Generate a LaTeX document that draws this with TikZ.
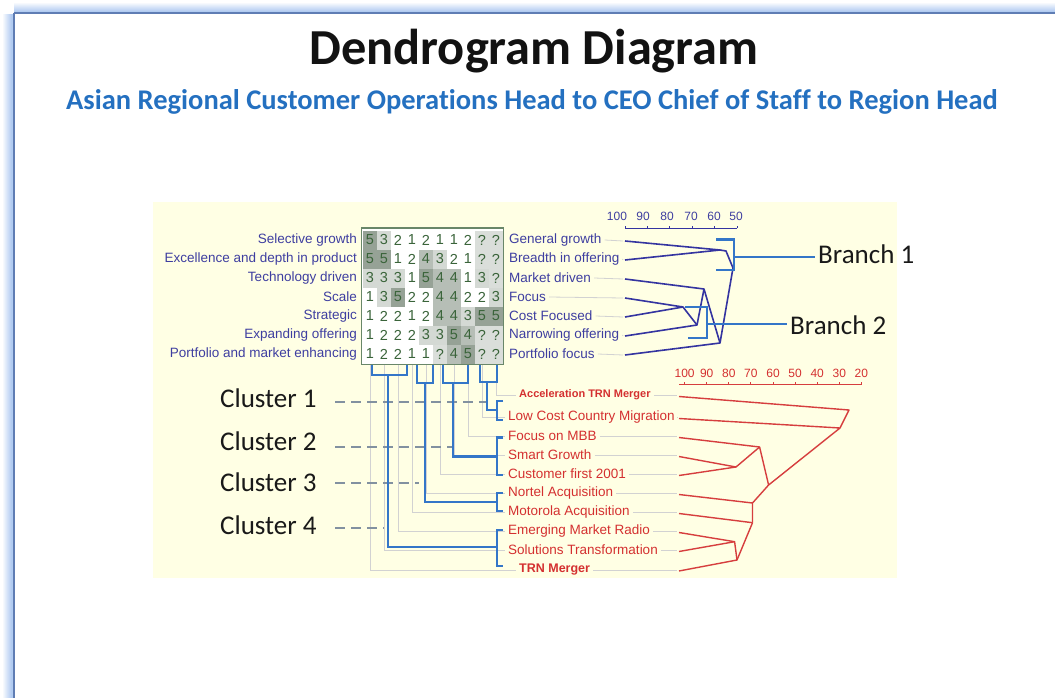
\documentclass[tikz,border=0pt]{standalone}
\usepackage{fontspec}
\setmainfont{Carlito}[Ligatures=NoCommon]
\newfontfamily\arialf{Liberation Sans}[Ligatures=NoCommon]
\definecolor{labblue}{RGB}{62,62,160}
\definecolor{dendro}{RGB}{52,52,160}
\definecolor{brblue}{RGB}{52,118,200}
\definecolor{redlab}{RGB}{212,48,48}
\definecolor{redline}{RGB}{214,62,62}
\definecolor{panel}{RGB}{255,255,228}
\definecolor{mgreen}{RGB}{58,100,58}
\definecolor{mborder}{RGB}{105,135,105}
\colorlet{cell1}{white}
\colorlet{cell2}{white}
\definecolor{cell3}{RGB}{212,217,212}
\definecolor{cell4}{RGB}{182,190,182}
\definecolor{cell5}{RGB}{150,162,150}
\definecolor{cellq}{RGB}{218,222,218}
\definecolor{subblue}{RGB}{36,112,192}
\definecolor{frdark}{RGB}{95,125,180}
\definecolor{frlight}{RGB}{170,198,240}
\definecolor{leadgray}{RGB}{210,210,210}
\definecolor{dashgray}{RGB}{130,145,160}
\expandafter\def\csname mt1\endcsname{1}
\expandafter\def\csname mt2\endcsname{2}
\expandafter\def\csname mt3\endcsname{3}
\expandafter\def\csname mt4\endcsname{4}
\expandafter\def\csname mt5\endcsname{5}
\expandafter\def\csname mtq\endcsname{?}
\begin{document}
\begin{tikzpicture}[x=1pt,y=-1pt,
  lab/.style={font=\arialf\fontsize{13.5}{14}\selectfont, text=labblue, inner sep=0pt},
  rlab/.style={font=\arialf\fontsize{13.5}{14}\selectfont, text=redlab, inner sep=0pt, anchor=west},
  big/.style={font=\fontsize{27}{28}\selectfont, text=black!90, inner sep=0pt, anchor=west},
  leader/.style={draw=leadgray, line width=0.8pt},
  dline/.style={draw=dendro, line width=1.6pt, line join=round},
  rline/.style={draw=redline, line width=1.4pt, line join=round},
  bline/.style={draw=brblue, line width=2.2pt},
  dashline/.style={draw=dashgray, line width=1.5pt, dash pattern=on 10pt off 6pt},
  mnum/.style={font=\arialf\fontsize{14.5}{14}\selectfont, text=mgreen, inner sep=0pt},
  snum/.style={font=\arialf\fontsize{12}{12}\selectfont, inner sep=0pt}]
\useasboundingbox (0,0) rectangle (1055,698);
% frame
\foreach \i in {0,...,9}{
  \pgfmathsetmacro\pc{10*\i}
  \draw[frlight!\pc!white, line width=1.1pt] (14,3+\i) -- (1055,3+\i);
  \draw[frlight!\pc!white, line width=1.1pt] (3+\i,14) -- (3+\i,698);
}
\draw[frdark, line width=2pt] (13.5,13.5) -- (1055,13.5);
\draw[frdark, line width=2pt] (13.5,13.5) -- (13.5,698);
% titles
\node[font=\bfseries\fontsize{50.4}{52}\selectfont, text=black!93, inner sep=0pt, anchor=base] (title) at (534,65) {Dendrogram Diagram};
\node[font=\bfseries\fontsize{28.5}{29}\selectfont, text=subblue, inner sep=0pt, anchor=base] (sub) at (532,110) {Asian Regional Customer Operations Head to CEO Chief of Staff to Region Head};
% panel
\fill[panel] (153,202) rectangle (897,578);
% matrix
\fill[white] (361.5,228) rectangle (503.5,364.5);
\foreach \vals [count=\r] in {{5,3,2,1,2,1,1,2,q,q},{5,5,1,2,4,3,2,1,q,q},{3,3,3,1,5,4,4,1,3,q},{1,3,5,2,2,4,4,2,2,3},{1,2,2,1,2,4,4,3,5,5},{1,2,2,2,3,3,5,4,q,q},{1,2,2,1,1,q,4,5,q,q}}{
  \foreach \v [count=\c] in \vals {
    \pgfmathsetmacro\cx{370+14*(\c-1)}
    \pgfmathsetmacro\cy{240+19*(\r-1)}
    \fill[fill=cell\v] (\cx-7,\cy-9.5) rectangle (\cx+7,\cy+9.5);
    \node[mnum] (m\r-\c) at (\cx,\cy) {\csname mt\v\endcsname};
  }
}
\draw[mborder, line width=1.6pt] (361.5,228) rectangle (503.5,364.5);
% left labels
\foreach \t [count=\i] in {Selective growth,Excellence and depth in product,Technology driven,Scale,Strategic,Expanding offering,Portfolio and market enhancing}{
  \node[lab, anchor=east] (l\i) at (357,221+19*\i) {\t};
}
% right labels
\foreach \t [count=\i] in {General growth,Breadth in offering,Market driven,Focus,Cost Focused,Narrowing offering,Portfolio focus}{
  \node[lab, anchor=west] (r\i) at (509,221+19*\i) {\t};
  \draw[leader] ([xshift=3pt]r\i.east) -- (623,222+19*\i);
}
% top scale
\draw[dendro, line width=1pt] (625,228) -- (737,228);
\foreach \k in {0,...,5}{
  \pgfmathsetmacro\tx{625+22.4*\k}
  \draw[dendro, line width=1pt] (\tx,228) -- (\tx,225.5);
}
\foreach \v/\x in {100/617,90/643,80/667,70/691,60/714,50/736}{
  \node[snum, text=labblue] (tn\v) at (\x,216) {\v};
}
% top dendrogram
\coordinate (J1) at (720,250);
\coordinate (J1b) at (726,251);
\coordinate (R) at (733,268);
\coordinate (J2) at (683,307);
\coordinate (J3) at (697,325);
\coordinate (J4) at (704,289);
\coordinate (J5) at (720,343);
\draw[dline] (625,241) -- (J1);
\draw[dline] (625,260) -- (J1) -- (J1b) -- (R);
\draw[dline] (625,298) -- (J2);
\draw[dline] (625,317) -- (J2) -- (J3);
\draw[dline] (625,336) -- (J3) -- (J4);
\draw[dline] (625,279) -- (J4) -- (J5);
\draw[dline] (625,355) -- (J5) -- (R);
% branch brackets
\draw[bline] (716,239.5) -- (734,239.5) -- (734,270) -- (716,270);
\draw[bline] (734,257) -- (815,257);
\node[big] (br1) at (818,254) {Branch 1};
\draw[bline] (685,307) -- (707,307) -- (707,338) -- (688,338);
\draw[bline] (707,324) -- (787,324);
\node[big] (br2) at (790,325) {Branch 2};
% red labels
\node[rlab] (b1) at (519,395) {\bfseries\fontsize{11}{12}\selectfont Acceleration TRN Merger};
\node[rlab] (b2) at (508,417) {Low Cost Country Migration};
\node[rlab] (b3) at (508,436) {Focus on MBB};
\node[rlab] (b4) at (508,455) {Smart Growth};
\node[rlab] (b5) at (508,474) {Customer first 2001};
\node[rlab] (b6) at (508,493) {Nortel Acquisition};
\node[rlab] (b7) at (508,512) {Motorola Acquisition};
\node[rlab] (b8) at (508,531) {Emerging Market Radio};
\node[rlab] (b9) at (508,550) {Solutions Transformation};
\node[rlab] (b10) at (519,570) {\bfseries\fontsize{12.5}{13}\selectfont TRN Merger};
\foreach \k in {1,...,10}{
  \draw[leader] ([xshift=3pt]b\k.east) -- ([xshift=0pt]b\k.east -| 677,0);
}
% gray L lines from columns
\foreach \c in {1,...,10}{
  \pgfmathtruncatemacro\bk{11-\c}
  \pgfmathsetmacro\cx{370+14*(\c-1)}
  \draw[leader] (\cx,365) |- ([xshift=-3pt]b\bk.west);
}
% red scale
\draw[redline, line width=1pt] (679,384) -- (862,384);
\foreach \v [count=\k from 0] in {100,90,...,20}{
  \pgfmathsetmacro\tx{684.6+22.1*\k}
  \draw[redline, line width=1pt] (\tx,384) -- (\tx,381.5);
  \node[snum, text=redlab] (rn\v) at (\tx,373) {\v};
}
% red dendrogram
\coordinate (A1) at (849,410);
\coordinate (A2) at (840,428);
\coordinate (B) at (768.6,485);
\coordinate (C1) at (759.6,447);
\coordinate (C2) at (736,467);
\coordinate (D1) at (752.5,503);
\coordinate (D2) at (752.5,522.7);
\coordinate (E1) at (734.6,541.7);
\coordinate (E2) at (737,560);
\draw[rline] (679,396.5) -- (A1) -- (A2);
\draw[rline] (679,418.5) -- (A2) -- (B);
\draw[rline] (679,437.5) -- (C1) -- (B);
\draw[rline] (679,456.5) -- (C2);
\draw[rline] (679,475.5) -- (C2) -- (C1);
\draw[rline] (679,494.5) -- (D1);
\draw[rline] (B) -- (D1) -- (D2);
\draw[rline] (679,513.5) -- (D2);
\draw[rline] (679,532.5) -- (E1);
\draw[rline] (679,551.5) -- (E1) -- (E2);
\draw[rline] (679,571) -- (E2) -- (D2);
% dashed cluster guides
\draw[dashline] (335,402) -- (487,402);
\draw[dashline] (335,447) -- (452,447);
\draw[dashline] (335,483) -- (419,483);
\draw[dashline] (335,528) -- (384,528);
% blue cluster lines
\draw[bline] (371.7,364.5) |- (406.7,375) -- (406.7,364.5);
\draw[bline] (388,375) |- (497,547);
\draw[bline] (503,530) -| (497,566) -- (503,566);
\draw[bline] (416.7,364.5) |- (433.3,383) -- (433.3,364.5);
\draw[bline] (425,383) |- (497,502);
\draw[bline] (503,493) -| (497,511) -- (503,511);
\draw[bline] (442.7,364.5) |- (468.3,383) -- (468.3,364.5);
\draw[bline] (453,383) |- (497,456.5);
\draw[bline] (503,437.5) -| (497,475) -- (503,475);
\draw[bline] (480,364.5) |- (496.7,381.7) -- (496.7,364.5);
\draw[bline] (487,381.7) |- (497,410);
\draw[bline] (503,401) -| (497,420) -- (503,420);
% cluster labels
\node[big] (c1) at (220,398) {Cluster 1};
\node[big] (c2) at (220,441) {Cluster 2};
\node[big] (c3) at (220,482) {Cluster 3};
\node[big] (c4) at (220,525) {Cluster 4};
\end{tikzpicture}
\end{document}
